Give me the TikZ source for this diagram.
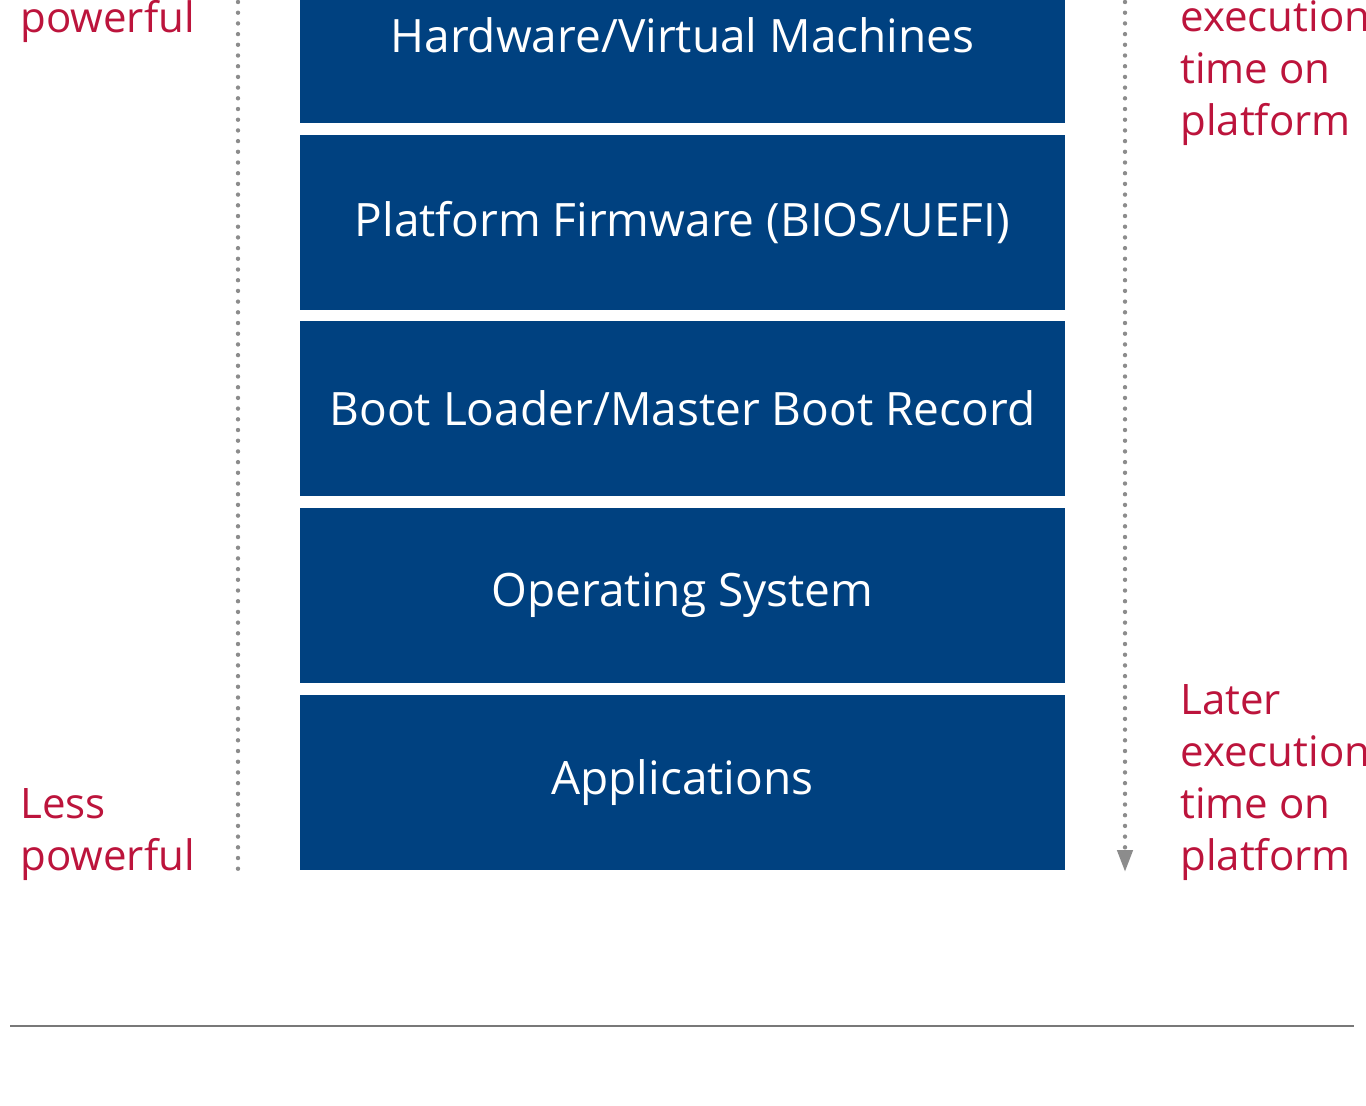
\documentclass[tikz,border=0pt]{standalone}
\usepackage{fontspec}
\setmainfont{Open Sans}
\usetikzlibrary{positioning,arrows.meta}
\definecolor{layerblue}{RGB}{0,65,128}
\definecolor{labelred}{RGB}{188,20,60}
\definecolor{dotgray}{RGB}{140,140,140}
\definecolor{rulegray}{RGB}{120,120,120}

\begin{document}
\begin{tikzpicture}[x=0.5pt,y=-0.5pt,
  layer/.style={fill=layerblue,text=white,minimum width=382.5pt,minimum height=87.5pt,
    inner sep=0pt,font=\fontsize{23}{28}\selectfont},
  sidelabel/.style={text=labelred,align=left,anchor=north west,inner sep=0pt,
    font=\fontsize{21}{26}\selectfont},
  dotline/.style={dotgray,line width=2.2pt,line cap=round,dash pattern=on 0pt off 5.35pt}]
\useasboundingbox (0,0) rectangle (1366,1105);
\clip (0,0) rectangle (1366,1105);
% layer stack
\node[layer] (hw)   at (682.5,35.5)  {Hardware/Virtual Machines};
\node[layer] (fw)   at (682.5,222.5) {Platform Firmware (BIOS/UEFI)};
\node[layer] (boot) at (682.5,408.5) {Boot Loader/Master Boot Record};
\node[layer] (os)   at (682.5,595.5) {Operating System};
\node[layer] (apps) at (682.5,782.5) {Applications};
% left side: power
\coordinate (ltop) at (238,2);
\coordinate (lbot) at (238,870);
\draw[dotline] (ltop) -- (lbot);
\node[sidelabel] (more) at (20,0) {powerful};
\node[sidelabel] (less) at (20,788) {Less\\powerful};
% right side: execution time
\coordinate (rtop) at (1125,2);
\coordinate (rbot) at (1125,872);
\draw[dotline,-{Triangle[width=7.5pt,length=11pt,fill=dotgray]}] (rtop) -- (rbot);
\node[sidelabel] (early) at (1180,0) {execution\\time on\\platform};
\node[sidelabel] (late) at (1180,684) {Later\\execution\\time on\\platform};
% bottom rule
\coordinate (rl) at (10,1026);
\coordinate (rr) at (1354,1026);
\draw[rulegray,line width=1pt] (rl) -- (rr);
\end{tikzpicture}
\end{document}
